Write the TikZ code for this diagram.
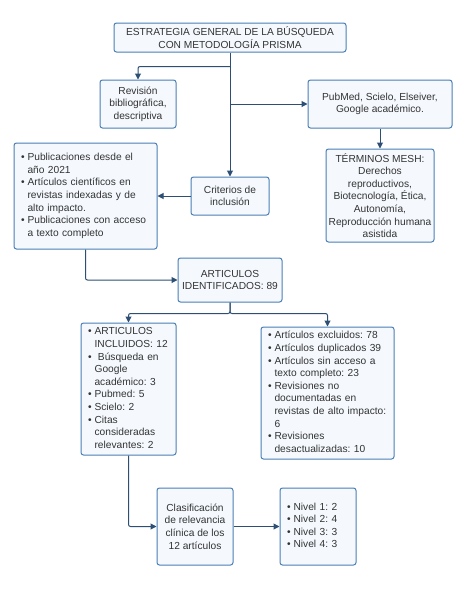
\documentclass[tikz,border=0pt]{standalone}
\usepackage{fontspec}
\setmainfont{Liberation Sans}
\frenchspacing
\usetikzlibrary{positioning, calc, shapes, arrows.meta}

\definecolor{borde}{HTML}{4A7FB5}
\definecolor{relleno}{HTML}{F5F9FE}
\definecolor{linea}{HTML}{2D4F73}
\definecolor{texto}{HTML}{333333}

\tikzset{
	caja/.style={draw=borde, fill=relleno, line width=1pt, rounded corners=2.5pt, text=texto,
		font=\fontsize{10.2}{12.6}\selectfont, align=center, inner sep=0pt},
	lista/.style={caja, align=left, inner xsep=7pt},
	flecha/.style={draw=linea, line width=1pt, rounded corners=2pt, -{Triangle[length=6pt,width=6pt]}}
}

\begin{document}
\begin{tikzpicture}[x=1pt, y=-1pt]
			\useasboundingbox (0,0) rectangle (458,590);
			
			\node[caja, minimum width=232, minimum height=29] (titulo) at (230, 37.5) {ESTRATEGIA GENERAL DE LA BÚSQUEDA\\CON METODOLOGÍA PRISMA};
			
			\node[caja, minimum width=76, minimum height=48] (revision) at (138, 104) {Revisión\\bibliográfica,\\descriptiva};
			
			\node[caja, minimum width=144, minimum height=48] (pubmed) at (380, 104) {PubMed, Scielo, Elseiver,\\Google académico.};
			
			\node[caja, minimum width=108, minimum height=93] (terminos) at (380, 195.5) {TÉRMINOS MESH:\\Derechos\\reproductivos,\\Biotecnología, Ética,\\Autonomía,\\Reproducción humana\\asistida};
			
			\node[caja, minimum width=78, minimum height=38] (criterios) at (230, 196) {Criterios de\\inclusión};
			
			\node[lista, text width=129, minimum height=106] (publicaciones) at (85.5, 196) {\begin{tabular}{@{}l@{\hspace{3pt}}l@{}}
					\textbullet & Publicaciones desde el \\
					& año 2021 \\
					\textbullet & Artículos científicos en \\
					& revistas indexadas y de \\
					& alto impacto. \\
					\textbullet & Publicaciones con acceso \\
					& a texto completo \\
			\end{tabular}};
			
			\node[caja, minimum width=104, minimum height=44] (identificados) at (230, 280) {ARTICULOS\\IDENTIFICADOS: 89};
			
			\node[lista, text width=81, minimum height=132] (incluidos) at (128.5, 389) {\begin{tabular}{@{}l@{\hspace{3pt}}l@{}}
					\textbullet & ARTICULOS \\
					& INCLUIDOS: 12 \\
					\textbullet & \ Búsqueda en \\
					& Google \\
					& académico: 3 \\
					\textbullet & Pubmed: 5 \\
					\textbullet & Scielo: 2 \\
					\textbullet & Citas \\
					& consideradas \\
					& relevantes: 2 \\
			\end{tabular}};
			
			\node[lista, text width=119, minimum height=132] (excluidos) at (327.5, 393) {\begin{tabular}{@{}l@{\hspace{3pt}}l@{}}
					\textbullet & Artículos excluidos: 78 \\
					\textbullet & Artículos duplicados 39 \\
					\textbullet & Artículos sin acceso a \\
					& texto completo: 23 \\
					\textbullet & Revisiones no \\
					& documentadas en \\
					& revistas de alto impacto: \\
					& 6 \\
					\textbullet & Revisiones \\
					& desactualizadas: 10 \\
			\end{tabular}};
			
			\node[caja, minimum width=76, minimum height=77] (clasificacion) at (195, 526.5) {Clasificación\\de relevancia\\clínica de los\\12 artículos};
			
			\node[lista, text width=62, minimum height=77] (nivel) at (318, 526.5) {\begin{tabular}{@{}l@{\hspace{3pt}}l@{}}
					\textbullet & Nivel 1: 2 \\
					\textbullet & Nivel 2: 4 \\
					\textbullet & Nivel 3: 3 \\
					\textbullet & Nivel 4: 3 \\
			\end{tabular}};
			
			\draw[flecha] (titulo.south) -- (criterios.north);
			\draw[flecha] (titulo.south) ++(0,14) -| (revision.north);
			\draw[flecha] (pubmed.west -| titulo.south) -- (pubmed.west);
			\draw[flecha] (pubmed) -- (terminos);
			\draw[flecha] (criterios) -- (publicaciones);
			\draw[flecha] (publicaciones.south) |- (identificados.west);
			\draw[flecha] (identificados.south) -- ++(0,11) -| (incluidos.north);
			\draw[flecha] (identificados.south) -- ++(0,11) -| (excluidos.north);
			\draw[flecha] (incluidos.south) |- (clasificacion.west);
			\draw[flecha] (clasificacion) -- (nivel);
		\end{tikzpicture}
\end{document}
